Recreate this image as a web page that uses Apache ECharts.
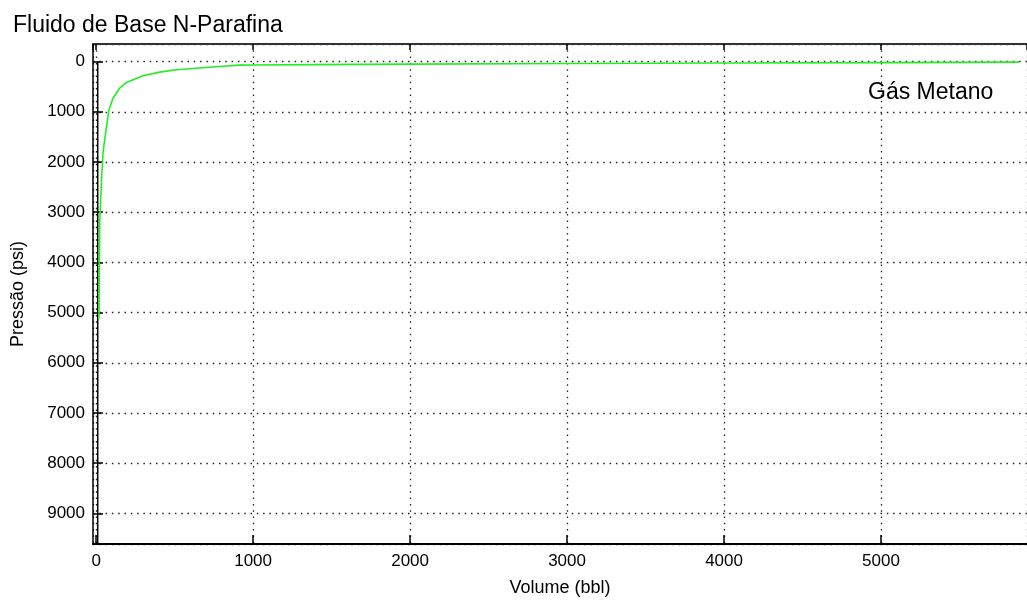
<!DOCTYPE html>
<html>
<head>
<meta charset="utf-8">
<script src="https://cdn.jsdelivr.net/npm/echarts@6/dist/echarts.min.js"></script>
<style>html,body{margin:0;padding:0;background:#fff}#c{width:1027px;height:602px}</style>
</head>
<body>
<div id="c"></div>
<script>
const titleText = 'Fluido de Base N-Parafina';
const seriesName = 'Gás Metano';
const xName = 'Volume (bbl)';
const yName = 'Pressão (psi)';
const xRange = [-20, 5930];
const yRange = [-350, 9609];
// Gás Metano curve: [volume (bbl), pressure (psi)]
const gasVolume = [18, 20, 23, 34, 44, 66, 82, 108, 150, 193, 298, 405, 511, 616, 786, 913, 1000, 1400, 2000, 3000, 4000, 5000, 5880];
const gasPressure = [5115, 4200, 3200, 2380, 1810, 1290, 960, 725, 527, 416, 283, 210, 164, 139, 99, 71, 68, 60, 50, 38, 28, 20, 12];
// black vertical trace near the origin
const refVolume = [10, 10];
const refPressure = [0, 9700];

const gasData = gasVolume.map((v, i) => [v, gasPressure[i]]);
const refData = refVolume.map((v, i) => [v, refPressure[i]]);

const FONT = 'Liberation Sans, Arial, sans-serif';
const dotted = { color: '#222', width: 1.3, type: [1.5, 4.8] };
const fmt = v => (Math.abs(v % 1000) < 1e-6 ? String(v) : '');

const chart = echarts.init(document.getElementById('c'));
chart.setOption({
  animation: false,
  backgroundColor: '#fff',
  title: {
    text: titleText, left: 8, top: 9,
    textStyle: { fontFamily: FONT, fontSize: 23, fontWeight: 'normal', color: '#000' }
  },
  grid: { left: 93, right: 0, top: 44, bottom: 55 },
  xAxis: [{
    type: 'value', min: xRange[0], max: xRange[1], splitNumber: 6,
    name: xName, nameLocation: 'middle', nameGap: 35,
    nameTextStyle: { fontFamily: FONT, fontSize: 18, color: '#000' },
    axisLine: { show: true, onZero: false, lineStyle: { color: '#000', width: 2 } },
    axisTick: { show: true, inside: true, length: 9, lineStyle: { color: '#000', width: 1.5 } },
    axisLabel: { formatter: fmt, showMinLabel: false, showMaxLabel: false, margin: 9,
      fontFamily: FONT, fontSize: 17, color: '#000' },
    splitLine: { show: true, lineStyle: dotted }
  }, {
    type: 'value', position: 'top', min: xRange[0], max: xRange[1], splitNumber: 6,
    axisLine: { show: true, onZero: false, lineStyle: { color: '#333', width: 2 } },
    axisTick: { show: true, inside: true, length: 6, lineStyle: { color: '#000', width: 1.5 } },
    axisLabel: { show: false },
    splitLine: { show: false }
  }],
  yAxis: [{
    type: 'value', inverse: true, min: yRange[0], max: yRange[1], splitNumber: 10,
    name: yName, nameLocation: 'middle', nameGap: 66,
    nameTextStyle: { fontFamily: FONT, fontSize: 18, color: '#000' },
    axisLine: { show: true, onZero: false, lineStyle: { color: '#000', width: 1.5 } },
    axisTick: { show: true, inside: true, length: 10, lineStyle: { color: '#000', width: 1.5 } },
    axisLabel: { formatter: fmt, showMinLabel: false, showMaxLabel: false, margin: 8,
      fontFamily: FONT, fontSize: 17, color: '#000' },
    splitLine: { show: true, lineStyle: dotted }
  }],
  series: [{
    name: 'ref', type: 'line', data: refData, showSymbol: false, symbol: 'none',
    lineStyle: { color: '#000', width: 1.5 }, clip: true, z: 3
  }, {
    name: seriesName, type: 'line', data: gasData, showSymbol: false, symbol: 'none',
    smooth: false, lineStyle: { color: '#22ee22', width: 1.6 }, clip: true, z: 4
  }],
  graphic: [{
    type: 'text', left: 868, top: 81,
    style: { text: seriesName, fontFamily: FONT, fontSize: 23, fill: '#000' }
  }]
});
</script>
</body>
</html>
